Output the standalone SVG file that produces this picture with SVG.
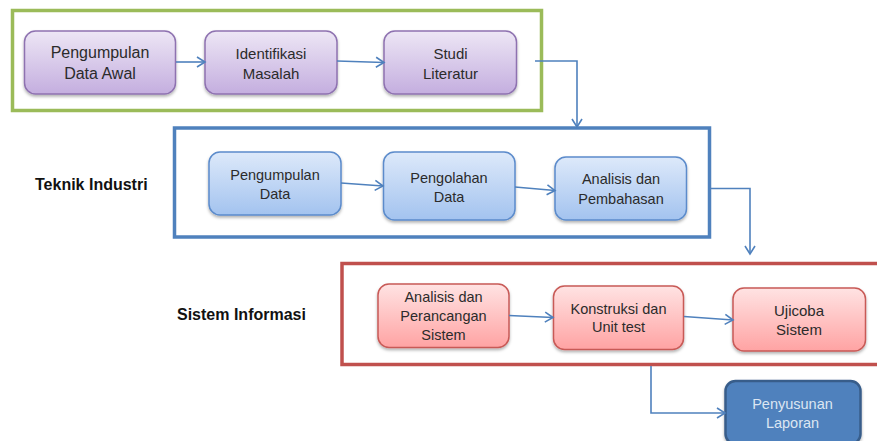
<svg xmlns="http://www.w3.org/2000/svg" width="877" height="441" viewBox="0 0 877 441">
  <defs>
    <linearGradient id="gPurple" x1="0" y1="0" x2="0" y2="1">
      <stop offset="0" stop-color="#EDE6F5"/>
      <stop offset="1" stop-color="#C4AEDF"/>
    </linearGradient>
    <linearGradient id="gBlue" x1="0" y1="0" x2="0" y2="1">
      <stop offset="0" stop-color="#DDE9FA"/>
      <stop offset="1" stop-color="#A3C3EF"/>
    </linearGradient>
    <linearGradient id="gRed" x1="0" y1="0" x2="0" y2="1">
      <stop offset="0" stop-color="#FFE3E3"/>
      <stop offset="1" stop-color="#FFA3A3"/>
    </linearGradient>
    <filter id="sh" x="-10%" y="-10%" width="120%" height="130%">
      <feDropShadow dx="0" dy="2" stdDeviation="1.8" flood-color="#000" flood-opacity="0.3"/>
    </filter>
    <marker id="arr" markerUnits="userSpaceOnUse" markerWidth="12" markerHeight="12" refX="10" refY="6" orient="auto">
      <path d="M2,1 L10,6 L2,11" fill="none" stroke="#4F81BD" stroke-width="1.6"/>
    </marker>
  </defs>
  <style>
    .frame { fill: none; stroke-width: 3.5; }
    .pbox { fill: url(#gPurple); stroke: #8E72B0; stroke-width: 1.5; filter: url(#sh); }
    .bbox { fill: url(#gBlue); stroke: #5B8BCB; stroke-width: 1.5; filter: url(#sh); }
    .rbox { fill: url(#gRed); stroke: #C85A57; stroke-width: 1.5; filter: url(#sh); }
    .t { font-family: "Liberation Sans", Arial, sans-serif; text-anchor: middle; fill: #2b2b2b; }
    .lbl { font-family: "Liberation Sans", Arial, sans-serif; font-weight: bold; font-size: 16px; fill: #111; }
    .conn { fill: none; stroke: #4F81BD; stroke-width: 1.6; }
  </style>
  <rect width="877" height="441" fill="#fff"/>

  <!-- frames -->
  <rect class="frame" x="12.5" y="10.5" width="529" height="100" stroke="#9BBB59"/>
  <rect class="frame" x="174.5" y="128" width="535" height="109" stroke="#4F81BD"/>
  <rect class="frame" x="342" y="263.5" width="540" height="101" stroke="#C0504D"/>

  <!-- labels -->
  <text class="lbl" x="35" y="189.5">Teknik Industri</text>
  <text class="lbl" x="177" y="320">Sistem Informasi</text>

  <!-- purple nodes -->
  <g id="pengumpulan-data-awal">
    <rect class="pbox" x="24.5" y="31" width="151" height="63" rx="11"/>
    <text class="t" x="100" y="57.5" font-size="16">Pengumpulan</text>
    <text class="t" x="100" y="79" font-size="16">Data Awal</text>
  </g>
  <g id="identifikasi-masalah">
    <rect class="pbox" x="205" y="31" width="132" height="63" rx="11"/>
    <text class="t" x="271" y="58.5" font-size="15">Identifikasi</text>
    <text class="t" x="271" y="78.5" font-size="15">Masalah</text>
  </g>
  <g id="studi-literatur">
    <rect class="pbox" x="384" y="31" width="132.5" height="63" rx="11"/>
    <text class="t" x="450.5" y="58.5" font-size="15">Studi</text>
    <text class="t" x="450.5" y="78.5" font-size="15">Literatur</text>
  </g>

  <!-- blue nodes -->
  <g id="pengumpulan-data">
    <rect class="bbox" x="209" y="152" width="132" height="63" rx="11"/>
    <text class="t" x="275" y="180" font-size="14.5">Pengumpulan</text>
    <text class="t" x="275" y="199" font-size="14.5">Data</text>
  </g>
  <g id="pengolahan-data">
    <rect class="bbox" x="383.5" y="152" width="131.5" height="68" rx="11"/>
    <text class="t" x="449" y="182.5" font-size="14.5">Pengolahan</text>
    <text class="t" x="449" y="201.5" font-size="14.5">Data</text>
  </g>
  <g id="analisis-pembahasan">
    <rect class="bbox" x="555" y="157" width="131.5" height="63" rx="11"/>
    <text class="t" x="621" y="183.5" font-size="14.5">Analisis dan</text>
    <text class="t" x="621" y="203.5" font-size="14.5">Pembahasan</text>
  </g>

  <!-- red nodes -->
  <g id="analisis-perancangan">
    <rect class="rbox" x="378" y="284" width="131" height="63.5" rx="11"/>
    <text class="t" x="443.5" y="302" font-size="14.5">Analisis dan</text>
    <text class="t" x="443.5" y="321" font-size="14.5">Perancangan</text>
    <text class="t" x="443.5" y="340" font-size="14.5">Sistem</text>
  </g>
  <g id="konstruksi-unit-test">
    <rect class="rbox" x="553.5" y="286" width="130" height="63.5" rx="11"/>
    <text class="t" x="618.5" y="313.5" font-size="14.5">Konstruksi dan</text>
    <text class="t" x="618.5" y="332" font-size="14.5">Unit test</text>
  </g>
  <g id="ujicoba-sistem">
    <rect class="rbox" x="733" y="288" width="132.5" height="63" rx="11"/>
    <text class="t" x="799" y="316" font-size="15">Ujicoba</text>
    <text class="t" x="799" y="334.5" font-size="15">Sistem</text>
  </g>

  <!-- final node -->
  <g id="penyusunan-laporan">
    <rect x="725.5" y="381" width="135" height="63" rx="10" fill="#4F81BD" stroke="#385D8A" stroke-width="2.5" filter="url(#sh)"/>
    <text class="t" x="792.5" y="408.5" font-size="14.5" fill="#DCE6F2" style="fill:#DCE6F2">Penyusunan</text>
    <text class="t" x="792.5" y="427.5" font-size="14.5" style="fill:#DCE6F2">Laporan</text>
  </g>

  <!-- connectors -->
  <g id="connectors">
    <line class="conn" x1="176" y1="62" x2="205" y2="62" marker-end="url(#arr)"/>
    <line class="conn" x1="337" y1="61" x2="384" y2="62.5" marker-end="url(#arr)"/>
    <polyline class="conn" points="535,61 577,61 577,127" marker-end="url(#arr)"/>
    <line class="conn" x1="341" y1="183" x2="383" y2="186" marker-end="url(#arr)"/>
    <line class="conn" x1="515" y1="187" x2="555" y2="190.5" marker-end="url(#arr)"/>
    <polyline class="conn" points="710,188.5 750,188.5 750,254" marker-end="url(#arr)"/>
    <line class="conn" x1="509" y1="315.5" x2="553" y2="317.5" marker-end="url(#arr)"/>
    <line class="conn" x1="684" y1="316.5" x2="733" y2="320" marker-end="url(#arr)"/>
    <polyline class="conn" points="651,366 651,413 725,413" marker-end="url(#arr)"/>
  </g>
</svg>
